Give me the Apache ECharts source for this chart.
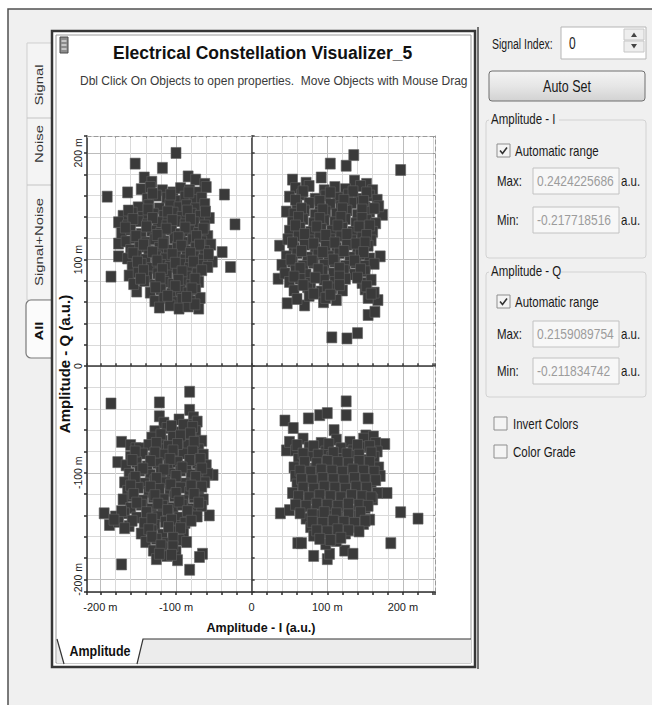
<!DOCTYPE html>
<html><head><meta charset="utf-8">
<script src="https://cdn.jsdelivr.net/npm/echarts@6/dist/echarts.min.js"></script>
<style>html,body{margin:0;padding:0;background:#fff}#c{width:652px;height:705px}</style>
</head><body><div id="c"></div>
<script>
// ---- data (milli a.u.) ----
const iRange = [-217.7185167, 242.4225686];
const qRange = [-211.8347424, 215.9089754];
const iTickLabels = [-200, -100, 0, 100, 200];
const qTickLabels = [-200, -100, 0, 100, 200];
const tabNames = ['Signal', 'Noise', 'Signal+Noise', 'All'];

const quadrantTopLeft = [
[-100,200],[-154,190],[-118,186],[-191,159],[-164,163],[-36,161],[-22,133],[-28,93],[-186,84],[-176,115],[-176,103],[-70,54],[-152,70],
[-142,177],[-132,173],[-84,178],[-74,175],[-62,171],
[-146,166],[-134,168],[-118,165],[-104,163],[-94,167],[-82,165],[-70,163],[-60,168],
[-138,157],[-126,160],[-112,158],[-100,155],[-88,159],[-76,156],[-66,158],
[-150,149],[-136,151],[-122,148],[-108,152],[-96,149],[-86,151],[-74,148],[-62,152],
[-170,141],[-158,144],[-144,140],[-130,143],[-116,141],[-104,144],[-92,140],[-80,143],[-68,141],[-56,139],
[-176,135],[-164,132],[-150,136],[-138,133],[-124,135],[-112,132],[-100,136],[-88,133],[-76,135],[-62,132],
[-172,125],[-160,128],[-146,124],[-132,127],[-120,125],[-106,128],[-94,124],[-82,127],[-70,125],[-58,122],
[-166,117],[-154,120],[-140,116],[-128,119],[-116,117],[-102,120],[-90,116],[-78,119],[-66,117],[-54,114],
[-160,109],[-148,112],[-136,108],[-122,111],[-110,109],[-98,112],[-86,108],[-74,111],[-62,108],[-39,107],
[-164,101],[-152,104],[-140,100],[-126,103],[-114,101],[-100,104],[-88,100],[-76,103],[-64,100],[-52,98],
[-158,93],[-146,96],[-132,92],[-120,95],[-108,93],[-94,96],[-82,92],[-70,95],[-58,93],
[-162,85],[-150,88],[-138,84],[-124,87],[-112,85],[-98,88],[-86,84],[-72,87],
[-156,77],[-142,80],[-128,76],[-116,79],[-104,77],[-92,80],[-80,76],[-70,79],
[-134,69],[-120,72],[-106,68],[-94,71],[-84,69],[-74,72],
[-128,61],[-116,64],[-104,60],[-92,63],[-80,61],[-68,64],
[-122,55],[-108,57],[-96,54],[-84,56],[-75,58],
[-131,162],[-107,161],[-83,163],
[-163,146],[-137,147],[-111,145],[-85,146],[-61,145],
[-157,138],[-131,139],[-105,137],[-81,138],
[-167,130],[-139,131],[-113,129],[-88,130],[-64,129],
[-153,122],[-125,123],[-97,121],[-73,122],
[-143,114],[-117,115],[-93,113],[-69,114],
[-157,106],[-131,107],[-105,105],[-81,106],[-57,105],
[-151,98],[-125,99],[-101,97],[-77,98],
[-143,90],[-118,91],[-92,89],[-66,90],
[-147,82],[-121,83],[-97,81],[-75,82],
[-127,74],[-101,75],[-79,73],
[-111,66],[-86,65]
];
const quadrantTopRight = [
[135,198],[104,190],[125,188],[197,184],[46,145],[37,113],[35,82],[47,59],[70,57],[95,60],[106,27],[126,26],[140,31],[154,48],[163,51],[167,62],[170,103],[173,142],
[54,175],[72,172],[92,177],[136,174],[152,171],
[58,167],[76,169],[96,165],[110,168],[124,166],[144,169],[160,165],
[50,159],[66,161],[84,157],[98,160],[114,158],[128,161],[142,157],[156,160],[166,156],
[60,151],[76,153],[90,149],[104,152],[118,150],[132,153],[150,149],[168,150],
[56,143],[70,146],[84,142],[98,145],[112,143],[126,146],[140,142],[156,145],
[54,135],[68,138],[82,134],[96,137],[110,135],[124,138],[138,134],[152,137],[164,134],
[50,127],[64,130],[78,126],[92,129],[106,127],[120,130],[134,126],[148,129],[160,126],
[48,119],[62,122],[76,118],[90,121],[104,119],[118,122],[132,118],[146,121],[158,118],
[56,111],[70,114],[84,110],[98,113],[112,111],[126,114],[140,110],[154,113],
[46,103],[60,106],[74,102],[88,105],[102,103],[116,106],[130,102],[144,105],[156,101],
[40,95],[54,98],[68,94],[82,97],[96,95],[110,98],[124,94],[138,97],[150,94],[162,96],
[44,87],[58,90],[72,86],[94,89],[108,87],[122,90],[136,86],[150,89],
[50,79],[64,82],[78,78],[96,81],[110,79],[124,82],[146,78],[158,81],
[56,71],[74,74],[92,70],[106,73],[120,71],[150,72],[162,69],
[60,63],[76,66],[98,64],[112,62],[154,64],
[68,164],[104,163],[134,164],[152,163],
[58,156],[90,155],[122,156],[148,155],
[66,148],[94,147],[120,148],[146,147],[162,148],
[62,140],[90,139],[118,140],[146,139],
[58,132],[86,131],[114,132],[142,131],[156,132],
[70,124],[98,123],[126,124],[152,123],
[54,116],[82,115],[110,116],[138,115],[150,116],
[66,108],[94,107],[122,108],[148,107],
[52,100],[80,99],[108,100],[136,99],
[64,92],[88,91],[116,92],[144,91],
[56,84],[84,83],[116,84],[140,83],
[68,76],[100,75],[116,76],[152,75],
[82,68],[104,67],[158,68]
];
const quadrantBottomLeft = [
[-82,-24],[-186,-35],[-122,-34],[-122,-47],[-82,-41],[-77,-48],[-172,-186],[-82,-191],[-195,-138],[-51,-102],[-56,-140],[-65,-176],[-69,-179],[-177,-90],[-172,-71],[-160,-74],[-153,-77],
[-116,-53],[-96,-50],[-84,-55],[-72,-52],
[-128,-61],[-112,-58],[-100,-62],[-88,-59],[-74,-61],
[-132,-67],[-118,-70],[-104,-66],[-92,-69],[-80,-67],[-66,-70],
[-148,-77],[-136,-74],[-122,-78],[-110,-75],[-96,-77],[-84,-74],[-70,-78],
[-160,-85],[-144,-82],[-130,-86],[-116,-83],[-102,-85],[-90,-82],[-76,-86],[-64,-83],
[-166,-93],[-152,-90],[-138,-94],[-124,-91],[-110,-93],[-98,-90],[-86,-94],[-72,-91],[-60,-93],
[-162,-101],[-148,-98],[-134,-102],[-120,-99],[-106,-101],[-94,-98],[-80,-102],[-68,-99],[-58,-101],
[-168,-109],[-156,-106],[-142,-110],[-128,-107],[-114,-109],[-100,-106],[-88,-110],[-74,-107],[-62,-109],
[-164,-117],[-150,-114],[-136,-118],[-122,-115],[-108,-117],[-94,-114],[-82,-118],[-70,-115],
[-170,-125],[-158,-122],[-144,-126],[-130,-123],[-116,-125],[-102,-122],[-90,-126],[-76,-123],[-64,-125],
[-160,-133],[-146,-130],[-132,-134],[-118,-131],[-104,-133],[-92,-130],[-78,-134],[-66,-131],
[-180,-141],[-168,-138],[-152,-142],[-138,-139],[-124,-141],[-110,-138],[-96,-142],[-84,-139],[-72,-141],
[-188,-149],[-176,-146],[-162,-150],[-142,-147],[-128,-149],[-114,-146],[-100,-150],[-88,-147],
[-146,-157],[-132,-154],[-118,-158],[-104,-155],[-90,-157],
[-140,-165],[-126,-162],[-112,-166],[-96,-163],[-86,-165],
[-130,-173],[-118,-170],[-100,-174],
[-126,-181],[-112,-178],[-98,-182],
[-106,-56],[-90,-55],[-78,-57],
[-120,-64],[-94,-65],[-81,-63],
[-126,-72],[-98,-73],[-76,-71],
[-154,-80],[-128,-81],[-104,-79],[-78,-80],
[-158,-88],[-134,-89],[-108,-87],[-82,-88],[-68,-87],
[-144,-96],[-116,-97],[-92,-95],[-66,-96],
[-154,-104],[-126,-105],[-100,-103],[-74,-104],
[-160,-112],[-134,-113],[-107,-111],[-80,-112],[-66,-113],
[-156,-120],[-128,-121],[-100,-119],[-76,-120],
[-152,-128],[-124,-129],[-96,-127],[-70,-128],
[-172,-136],[-139,-137],[-111,-135],[-85,-136],
[-182,-144],[-158,-145],[-132,-143],[-106,-144],[-80,-145],
[-168,-152],[-136,-153],[-110,-151],[-94,-152],
[-132,-160],[-104,-161],
[-120,-168],[-104,-169],
[-122,-176],[-106,-177]
];
const quadrantBottomRight = [
[125,-33],[125,-46],[44,-51],[55,-58],[75,-49],[90,-46],[100,-44],[154,-49],[109,-60],[151,-65],[161,-66],[176,-73],[46,-79],[197,-137],[220,-143],[184,-166],[61,-166],[66,-166],[82,-178],[100,-181],[103,-176],[123,-173],[134,-176],[38,-138],[179,-119],
[50,-71],[68,-68],[92,-72],[112,-69],[130,-71],[148,-68],[164,-72],
[58,-79],[76,-76],[98,-80],[118,-77],[134,-79],[150,-76],[166,-80],
[62,-87],[78,-84],[92,-88],[106,-85],[120,-87],[134,-84],[148,-88],[162,-85],
[56,-95],[70,-92],[84,-96],[98,-93],[112,-95],[126,-92],[140,-96],[154,-93],[168,-95],
[58,-103],[72,-100],[86,-104],[100,-101],[114,-103],[128,-100],[142,-104],[156,-101],[170,-103],
[60,-111],[74,-108],[88,-112],[102,-109],[116,-111],[130,-108],[144,-112],[158,-109],
[54,-119],[68,-116],[82,-120],[96,-117],[110,-119],[124,-116],[138,-120],[152,-117],[166,-119],
[62,-127],[76,-124],[90,-128],[104,-125],[118,-127],[132,-124],[146,-128],[160,-125],
[50,-135],[66,-132],[80,-136],[94,-133],[108,-135],[122,-132],[136,-136],[150,-133],
[72,-143],[86,-140],[100,-144],[114,-141],[128,-143],[142,-140],[156,-144],
[78,-151],[92,-148],[106,-152],[120,-149],[134,-151],[148,-148],
[82,-159],[96,-156],[110,-160],[124,-157],
[98,-167],[112,-164],
[60,-74],[82,-75],[102,-73],[140,-74],[156,-75],
[68,-82],[88,-83],[108,-81],[126,-82],[142,-83],[158,-81],
[70,-90],[86,-91],[100,-89],[114,-90],[128,-91],[142,-89],[156,-90],
[64,-98],[78,-99],[92,-97],[106,-98],[120,-99],[134,-97],[148,-98],[162,-99],
[66,-106],[80,-107],[94,-105],[108,-106],[122,-107],[136,-105],[150,-106],[164,-107],
[68,-114],[82,-115],[96,-113],[110,-114],[124,-115],[138,-113],[152,-114],
[62,-122],[76,-123],[90,-121],[104,-122],[118,-123],[132,-121],[146,-122],[158,-123],
[58,-130],[72,-131],[86,-129],[100,-130],[114,-131],[128,-129],[142,-130],[154,-131],
[64,-138],[80,-139],[96,-137],[112,-138],[128,-139],[144,-137],
[80,-146],[94,-147],[108,-145],[122,-146],[136,-147],[150,-145],
[86,-154],[100,-155],[114,-153],[128,-154],[142,-155],
[90,-162],[104,-163],[118,-161]
];

// ---- rendering ----
const FONT = "'Liberation Sans', Arial, sans-serif";
const BG = '#f0f0f0';
const chart = echarts.init(document.getElementById('c'), null, {renderer: 'svg'});

function T(x, y, s, o) {
  o = o || {};
  return {
    type: 'text', x: x, y: y, z: 20,
    rotation: o.rot || 0, scaleX: o.sx || 1, scaleY: o.sy || 1,
    style: {
      text: s, fill: o.color || '#1a1a1a',
      fontSize: o.size || 12, fontFamily: FONT, fontWeight: o.bold ? 'bold' : 'normal',
      align: o.align || 'left', verticalAlign: 'middle',
      textAlign: o.align || 'left', textVerticalAlign: 'middle'
    }
  };
}
function R(x, y, w, h, st, z, r) {
  return {type: 'rect', z: z == null ? -5 : z, shape: {x: x, y: y, width: w, height: h, r: r || 0}, style: st};
}
function L(pts, st, z) {
  return {type: 'polyline', z: z == null ? -3 : z, shape: {points: pts}, style: Object.assign({fill: null}, st)};
}
function checkbox(x, y, checked) {
  const els = [R(x, y, 13, 13, {fill: '#f4f4f4', stroke: '#8e8e8e', lineWidth: 1}, 15)];
  if (checked) els.push(L([[x + 3, y + 6.5], [x + 5.5, y + 9.5], [x + 10, y + 3.5]], {stroke: '#333', lineWidth: 1.6}, 16));
  return els;
}
function textbox(y, val) {
  return [
    R(533, y, 86, 26, {fill: '#f7f7f7', stroke: '#c2c2c2', lineWidth: 1}, 14),
    T(537, y + 13, val, {color: '#9c9c9c', size: 12, sy: 1.25}),
    T(621, y + 13, 'a.u.', {size: 11.5, sy: 1.25})
  ];
}

const g = [];
// window frame
g.push(R(8, 9, 652, 700, {fill: BG, stroke: '#505050', lineWidth: 1.5}, -10));
// vertical tabs
g.push(R(27, 43, 25, 257, {fill: '#f4f4f4', stroke: '#cfcfcf', lineWidth: 1}, -9));
g.push(L([[27, 118], [52, 118]], {stroke: '#c4c4c4', lineWidth: 1}, -8));
g.push(L([[27, 185], [52, 185]], {stroke: '#c4c4c4', lineWidth: 1}, -8));
g.push(R(26, 300, 27, 58, {fill: '#fbfbfb', stroke: '#7a7a7a', lineWidth: 1.2}, -8, [5, 0, 0, 5]));
g.push(T(39, 85, tabNames[0], {rot: Math.PI / 2, sx: 1.35, size: 11, color: '#333', align: 'center'}));
g.push(T(39, 144, tabNames[1], {rot: Math.PI / 2, sx: 1.35, size: 11, color: '#333', align: 'center'}));
g.push(T(39, 242, tabNames[2], {rot: Math.PI / 2, sx: 1.35, size: 11, color: '#333', align: 'center'}));
g.push(T(39, 331, tabNames[3], {rot: Math.PI / 2, sx: 1.35, size: 11, bold: true, color: '#111', align: 'center'}));
// main panel
g.push(R(52, 31, 423, 636, {fill: '#ffffff', stroke: '#363636', lineWidth: 2.5}, -7));
g.push(R(56, 35, 415, 628, {fill: null, stroke: '#9a9a9a', lineWidth: 1}, -6));
g.push(L([[478, 27], [478, 669]], {stroke: '#4a4a4a', lineWidth: 1.5}, -6));
// bottom tab strip
g.push(R(57, 639, 414, 24, {fill: '#ececec'}, -5));
g.push({type: 'polygon', z: -4, shape: {points: [[57, 639], [64, 663], [137, 663], [143, 639]]}, style: {fill: '#ffffff'}});
g.push(L([[57, 639], [64, 664]], {stroke: '#333', lineWidth: 1.2}, -3));
g.push(L([[137, 664], [143, 639], [471, 639]], {stroke: '#333', lineWidth: 1.2}, -3));
g.push(T(100, 651, 'Amplitude', {bold: true, size: 12.5, sy: 1.2, align: 'center', color: '#111'}));
// small icon
g.push(R(60, 37, 8, 16, {fill: '#8c8c8c', stroke: '#4a4a4a', lineWidth: 1}, 10));
g.push(L([[61.5, 41], [66.5, 41]], {stroke: '#fff', lineWidth: 1}, 11));
g.push(L([[61.5, 45], [66.5, 45]], {stroke: '#fff', lineWidth: 1}, 11));
g.push(L([[61.5, 49], [66.5, 49]], {stroke: '#fff', lineWidth: 1}, 11));
// right panel
g.push(T(492, 44, 'Signal Index:', {size: 10.5, sy: 1.35}));
g.push(R(561, 27, 85, 32, {fill: '#ffffff', stroke: '#b5b5b5', lineWidth: 1}, 12));
g.push(T(569, 43, '0', {size: 12, sy: 1.3}));
g.push(R(624, 29, 20, 11, {fill: '#eeeeee', stroke: '#c6c6c6', lineWidth: 1}, 13));
g.push(R(624, 41, 20, 11, {fill: '#eeeeee', stroke: '#c6c6c6', lineWidth: 1}, 13));
g.push({type: 'polygon', z: 14, shape: {points: [[631, 37], [634, 32.5], [637, 37]]}, style: {fill: '#444'}});
g.push({type: 'polygon', z: 14, shape: {points: [[631, 44], [634, 48.5], [637, 44]]}, style: {fill: '#444'}});
g.push({type: 'rect', z: 12, shape: {x: 489, y: 71, width: 156, height: 30, r: 3},
  style: {stroke: '#6f6f6f', lineWidth: 1,
    fill: new echarts.graphic.LinearGradient(0, 0, 0, 1, [{offset: 0, color: '#f4f4f4'}, {offset: 0.5, color: '#e6e6e6'}, {offset: 1, color: '#d2d2d2'}])}});
g.push(T(567, 86, 'Auto Set', {size: 12.5, sy: 1.3, align: 'center'}));
// group Amplitude - I
g.push(R(486, 120, 160, 138, {fill: null, stroke: '#d2d2d2', lineWidth: 1}, 11, 3));
g.push(R(489, 112, 70, 15, {fill: BG}, 12));
g.push(T(491, 119, 'Amplitude - I', {size: 11.5, sy: 1.3}));
checkbox(497, 144, true).forEach(e => g.push(e));
g.push(T(515, 151, 'Automatic range', {size: 11.5, sy: 1.3}));
g.push(T(497, 181, 'Max:', {size: 11.5, sy: 1.3}));
textbox(168, '0.2424225686').forEach(e => g.push(e));
g.push(T(497, 220, 'Min:', {size: 11.5, sy: 1.3}));
textbox(207, '-0.217718516').forEach(e => g.push(e));
// group Amplitude - Q
g.push(R(486, 272, 160, 125, {fill: null, stroke: '#d2d2d2', lineWidth: 1}, 11, 3));
g.push(R(489, 264, 72, 15, {fill: BG}, 12));
g.push(T(491, 271, 'Amplitude - Q', {size: 11.5, sy: 1.3}));
checkbox(497, 295, true).forEach(e => g.push(e));
g.push(T(515, 302, 'Automatic range', {size: 11.5, sy: 1.3}));
g.push(T(497, 334, 'Max:', {size: 11.5, sy: 1.3}));
textbox(321, '0.2159089754').forEach(e => g.push(e));
g.push(T(497, 371, 'Min:', {size: 11.5, sy: 1.3}));
textbox(358, '-0.211834742').forEach(e => g.push(e));
// invert / grade
checkbox(494, 417, false).forEach(e => g.push(e));
g.push(T(513, 424, 'Invert Colors', {size: 11.5, sy: 1.3}));
checkbox(494, 445, false).forEach(e => g.push(e));
g.push(T(513, 452, 'Color Grade', {size: 11.5, sy: 1.3}));

const minor = '#dadada', major = '#bcbcbc';
const fmt = v => (Math.abs(v) < 1e-9 ? '0' : Math.round(v) + ' m');
const gridLine = {show: true, lineStyle: {color: [minor, major, minor, minor, minor], width: 1}};

const scatterStyle = {color: '#3a3a3a', borderColor: '#626262', borderWidth: 0.6, opacity: 1};
function sc(name, data) {
  return {type: 'scatter', name: name, data: data, symbol: 'rect', symbolSize: [10, 11],
    itemStyle: scatterStyle, xAxisIndex: 0, yAxisIndex: 0, z: 5};
}

chart.setOption({
  animation: false,
  backgroundColor: '#ffffff',
  title: [
    {text: 'Electrical Constellation Visualizer_5', left: 113, top: 44, padding: 0,
      textStyle: {fontFamily: FONT, fontSize: 17.5, fontWeight: 'bold', color: '#111'}},
    {text: 'Dbl Click On Objects to open properties.  Move Objects with Mouse Drag', left: 80, top: 75, padding: 0,
      textStyle: {fontFamily: FONT, fontSize: 12, fontWeight: 'normal', color: '#3a3a3a'}}
  ],
  grid: {left: 87, top: 136, width: 348, height: 456, containLabel: false},
  xAxis: [
    {type: 'value', position: 'bottom', min: iRange[0], max: iRange[1], splitNumber: 23,
      axisLine: {onZero: false, lineStyle: {color: '#2e2e2e', width: 1.5}},
      axisTick: {show: true, length: 3, lineStyle: {color: '#2e2e2e', width: 1.5}},
      axisLabel: {customValues: iTickLabels, formatter: fmt, color: '#222', fontSize: 11, fontFamily: FONT, margin: 9},
      splitLine: gridLine,
      name: 'Amplitude - I (a.u.)', nameLocation: 'middle', nameGap: 29, nameMoveOverlap: false,
      nameTextStyle: {fontFamily: FONT, fontSize: 12.5, fontWeight: 'bold', color: '#111'}},
    {type: 'value', position: 'bottom', min: iRange[0], max: iRange[1], splitNumber: 23,
      axisLine: {onZero: true, onZeroAxisIndex: 0, lineStyle: {color: '#3a3a3a', width: 1.5}},
      axisTick: {show: true, inside: true, length: 3, lineStyle: {color: '#3a3a3a', width: 1.5}},
      axisLabel: {show: false}, splitLine: {show: false}},
    {type: 'value', position: 'top', min: iRange[0], max: iRange[1], splitNumber: 23,
      axisLine: {onZero: false, lineStyle: {color: '#9a9a9a', width: 1, type: [4, 3]}},
      axisTick: {show: true, inside: true, length: 2, lineStyle: {color: '#9a9a9a'}},
      axisLabel: {show: false}, splitLine: {show: false}}
  ],
  yAxis: [
    {type: 'value', position: 'left', min: qRange[0], max: qRange[1], splitNumber: 21,
      axisLine: {onZero: false, lineStyle: {color: '#2e2e2e', width: 1.5}},
      axisTick: {show: true, length: 3, lineStyle: {color: '#2e2e2e', width: 1.5}},
      axisLabel: {customValues: qTickLabels, formatter: fmt, rotate: 90, color: '#222', fontSize: 10.5, fontFamily: FONT, margin: 4},
      splitLine: gridLine,
      name: 'Amplitude - Q (a.u.)', nameLocation: 'middle', nameGap: 15, nameMoveOverlap: false,
      nameTextStyle: {fontFamily: FONT, fontSize: 15, fontWeight: 'bold', color: '#111'}},
    {type: 'value', position: 'left', min: qRange[0], max: qRange[1], splitNumber: 21,
      axisLine: {onZero: true, onZeroAxisIndex: 0, lineStyle: {color: '#3a3a3a', width: 1.5}},
      axisTick: {show: true, inside: true, length: 3, lineStyle: {color: '#3a3a3a', width: 1.5}},
      axisLabel: {show: false}, splitLine: {show: false}},
    {type: 'value', position: 'right', min: qRange[0], max: qRange[1], splitNumber: 21,
      axisLine: {onZero: false, lineStyle: {color: '#9a9a9a', width: 1, type: [4, 3]}},
      axisTick: {show: true, inside: true, length: 2, lineStyle: {color: '#9a9a9a'}},
      axisLabel: {show: false}, splitLine: {show: false}}
  ],
  series: [
    sc('Quadrant I-/Q+', quadrantTopLeft),
    sc('Quadrant I+/Q+', quadrantTopRight),
    sc('Quadrant I-/Q-', quadrantBottomLeft),
    sc('Quadrant I+/Q-', quadrantBottomRight)
  ],
  graphic: {elements: g}
});
</script></body></html>
